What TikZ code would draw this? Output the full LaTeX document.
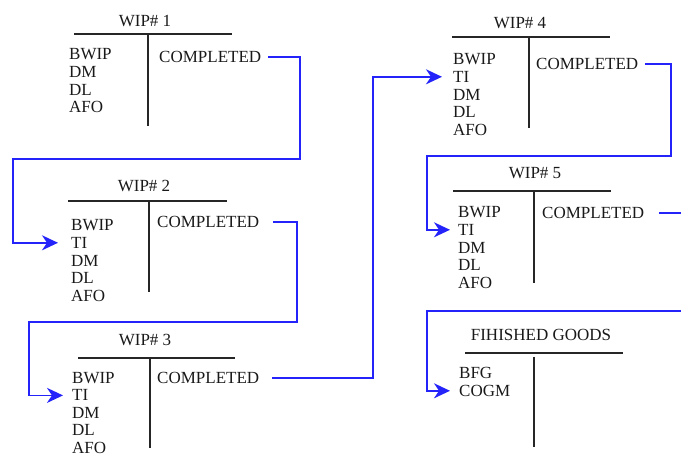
\documentclass[tikz,border=0pt]{standalone}
\usepackage{fontspec}
\setmainfont{Liberation Serif}
\usetikzlibrary{arrows.meta}
\definecolor{flowblue}{RGB}{35,35,250}
\tikzset{
  lbl/.style={anchor=west,inner sep=0pt,font=\fontsize{17}{18}\selectfont,text=black!90},
  ttl/.style={anchor=center,inner sep=0pt,font=\fontsize{17}{18}\selectfont,text=black!90},
  tline/.style={draw=black!85,line width=1.3pt},
  flow/.style={draw=flowblue,line width=1.6pt,-{Stealth[length=16pt,width=15pt,inset=5pt]}},
  flowend/.style={draw=flowblue,line width=1.6pt}
}
\newcommand\acctlines[5]{%
  \foreach \t [count=\i] in {#5} {\node[lbl] (#1-\i) at (#2,{#3+#4*(\i-1)}) {\t};}}
\begin{document}
\begin{tikzpicture}[x=1pt,y=-1pt]
\useasboundingbox (0,0) rectangle (681,457);

% WIP 1
\node[ttl] (t1) at (145,21) {WIP\# 1};
\draw[tline] (74,34) -- (232,34);
\draw[tline] (148,34) -- (148,126);
\acctlines{w1}{69}{54}{17.8}{BWIP,DM,DL,AFO}
\node[lbl] (c1) at (159,57) {COMPLETED};

% WIP 2
\node[ttl] (t2) at (144,186) {WIP\# 2};
\draw[tline] (68,201) -- (227,201);
\draw[tline] (149,201) -- (149,292);
\acctlines{w2}{71}{225}{17.8}{BWIP,TI,DM,DL,AFO}
\node[lbl] (c2) at (157,222) {COMPLETED};

% WIP 3
\node[ttl] (t3) at (145,340) {WIP\# 3};
\draw[tline] (78,358) -- (235,358);
\draw[tline] (150,358) -- (150,448);
\acctlines{w3}{72}{378}{17.4}{BWIP,TI,DM,DL,AFO}
\node[lbl] (c3) at (157,378) {COMPLETED};

% WIP 4
\node[ttl] (t4) at (520,23) {WIP\# 4};
\draw[tline] (452,37) -- (610,37);
\draw[tline] (529,37) -- (529,128);
\acctlines{w4}{453}{59}{17.8}{BWIP,TI,DM,DL,AFO}
\node[lbl] (c4) at (536,64) {COMPLETED};

% WIP 5
\node[ttl] (t5) at (535,173) {WIP\# 5};
\draw[tline] (453,191) -- (611,191);
\draw[tline] (534,191) -- (534,283);
\acctlines{w5}{458}{212}{17.8}{BWIP,TI,DM,DL,AFO}
\node[lbl] (c5) at (542,213) {COMPLETED};

% Finished goods
\node[ttl] (tf) at (541,335) {FIHISHED GOODS};
\draw[tline] (465,353) -- (623,353);
\draw[tline] (534,357) -- (534,447);
\acctlines{fg}{459}{373}{17.8}{BFG,COGM}

% connectors
\draw[flow] ([xshift=7pt]c1.east) -| (300,159) -- (13,159) |- ([xshift=-13pt]w2-2.west);
\draw[flow] ([xshift=14pt]c2.east) -| (297,322) -- (29,322) |- ([xshift=-9pt]w3-2.west);
\draw[flow] ([xshift=13pt]c3.east) -| (373,200) |- ([xshift=-11pt]w4-2.west);
\draw[flow] ([xshift=7pt]c4.east) -| (671,156) -- (427,156) |- ([xshift=-8pt]w5-2.west);
\coordinate (e1) at (681,213);
\coordinate (e2) at (681,311);
\draw[flowend] ([xshift=15pt]c5.east) -- (e1);
\draw[flow] (e2) -- (427,311) |- ([xshift=-9pt]fg-2.west);
\end{tikzpicture}
\end{document}
